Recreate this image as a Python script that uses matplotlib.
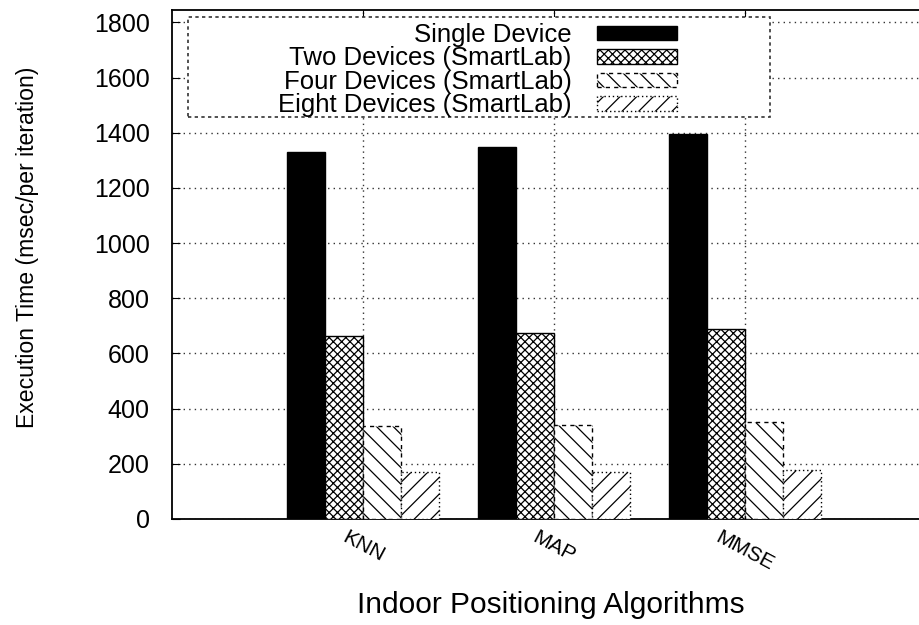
import matplotlib
matplotlib.use('Agg')
import matplotlib.pyplot as plt
import numpy as np
from matplotlib.patches import Rectangle

plt.rcParams['font.family'] = ['Liberation Sans', 'DejaVu Sans']
plt.rcParams['hatch.linewidth'] = 0.9

algorithms = ['KNN', 'MAP', 'MMSE']
series = ['Single Device', 'Two Devices (SmartLab)',
          'Four Devices (SmartLab)', 'Eight Devices (SmartLab)']
single = [1330, 1350, 1395]
two = [665, 676, 687]
four = [336, 340, 350]
eight = [170, 172, 177]
yticks = [0, 200, 400, 600, 800, 1000, 1200, 1400, 1600, 1800]

values = [single, two, four, eight]
styles = [
    dict(facecolor='black', hatch=None, linestyle='-'),
    dict(facecolor='white', hatch='xxxx', linestyle='-'),
    dict(facecolor='white', hatch='\\\\', linestyle=(0, (3, 3))),
    dict(facecolor='white', hatch='//', linestyle=(0, (1, 2))),
]

fig = plt.figure(figsize=(9.19, 6.25), dpi=100)
ax = fig.add_axes([0.1872, 0.1696, 0.8313, 0.8144])

x = np.arange(len(algorithms))
width = 0.2
handles = []
for i, (vals, st) in enumerate(zip(values, styles)):
    b = ax.bar(x + (i - 1.5) * width, vals, width, label=series[i],
               facecolor=st['facecolor'], edgecolor='black',
               hatch=st['hatch'], linestyle=st['linestyle'], linewidth=1.0,
               zorder=3)
    handles.append(b)

ax.set_xlim(-1, 3)
ax.set_ylim(0, 1845)
ax.set_yticks(yticks)
ax.set_xticks(x)
ax.set_xticklabels(algorithms, rotation=-28, ha='center', va='top', fontsize=15)
ax.tick_params(axis='y', direction='in', labelsize=18, pad=16, length=6,
               right=True)
ax.tick_params(axis='x', direction='in', length=6, top=True, pad=6)
ax.grid(True, linestyle=(0, (1, 3)), color='#333333', linewidth=1.0, zorder=0)
ax.set_axisbelow(True)
for s in ax.spines.values():
    s.set_linewidth(1.3)

# legend box (opaque, dashed frame)
ax.add_patch(Rectangle((0.021, 0.790), 0.762, 0.196, transform=ax.transAxes,
                       facecolor='white', edgecolor='#333333',
                       linestyle=(0, (2, 2)), linewidth=1.2, zorder=5))
leg = fig.legend(handles=handles, labels=series, loc='upper right',
                 bbox_to_anchor=(677 / 919, 1 - 23 / 625), frameon=False,
                 markerfirst=False, fontsize=18.5, handlelength=3.1,
                 handleheight=0.5, handletextpad=1.0, labelspacing=-0.02,
                 borderpad=0, borderaxespad=0)
leg.set_zorder(6)

fig.text(28 / 919, 1 - 247 / 625, 'Execution Time (msec/per iteration)',
         rotation=90, ha='center', va='center', fontsize=16.6)
fig.text(551 / 919, 1 - 605 / 625, 'Indoor Positioning Algorithms',
         ha='center', va='center', fontsize=21.5)

fig.savefig('out.png', dpi=100)
